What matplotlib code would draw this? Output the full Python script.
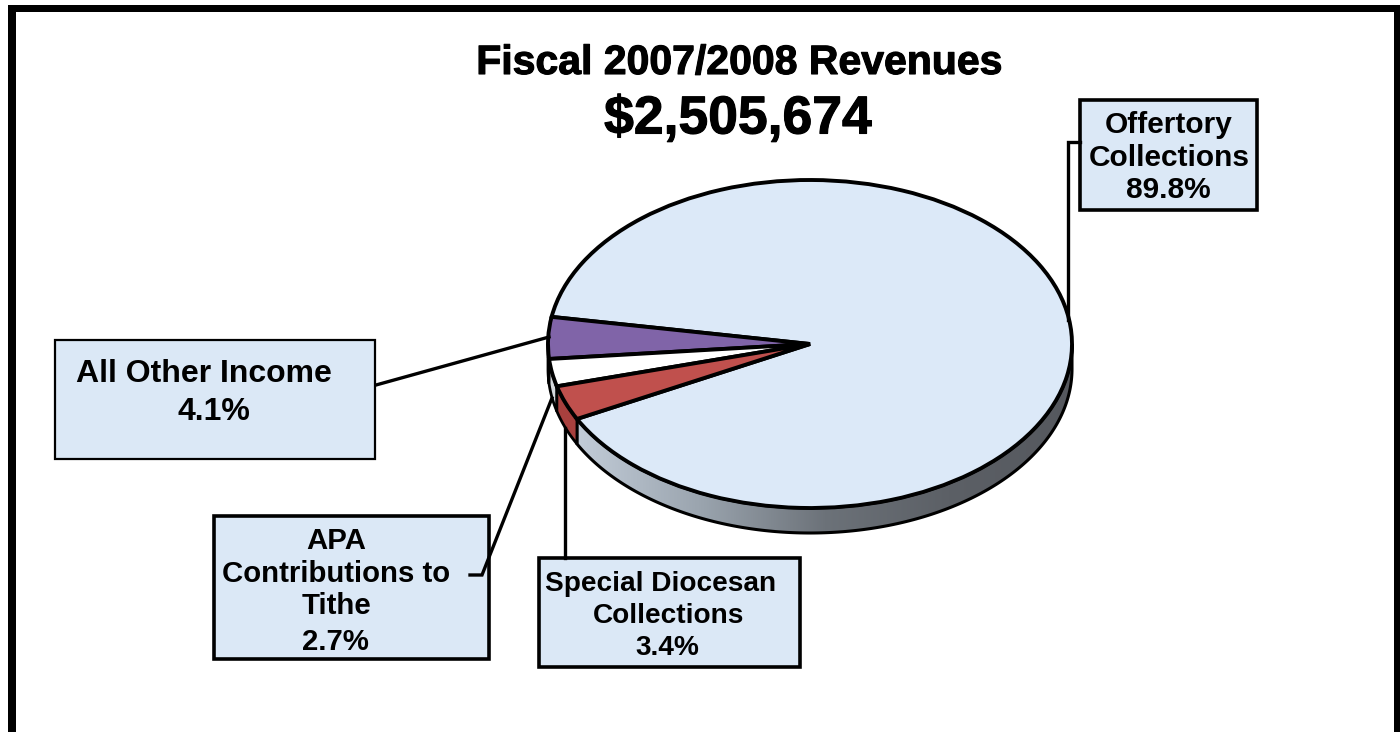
import matplotlib
matplotlib.use('Agg')
import matplotlib.pyplot as plt
import numpy as np
from matplotlib.colors import LinearSegmentedColormap
from matplotlib.patches import Polygon, Rectangle
import matplotlib.patheffects as pe

plt.rcParams['font.family'] = ['Liberation Sans', 'DejaVu Sans']

categories = ['Offertory Collections', 'All Other Income',
              'APA Contributions to Tithe', 'Special Diocesan Collections']
shares = [89.8, 4.1, 2.7, 3.4]
label_lines = [['Offertory', 'Collections', '89.8%'],
               ['All Other Income', '4.1%'],
               ['APA', 'Contributions to', 'Tithe', '2.7%'],
               ['Special Diocesan', 'Collections', '3.4%']]
slice_colors = ['#dce9f8', '#8064a8', '#ffffff', '#c0504d']
side_colors = [None, '#5f4a80', '#d4d8dc', '#a8403e']
title_lines = ['Fiscal 2007/2008 Revenues', '$2,505,674']

W, H = 1400, 732
cx, cy, rx, ry, depth = 810, 344, 262, 164, 25
box_fill = '#dbe8f6'

fig = plt.figure(figsize=(W / 100, H / 100), dpi=100, facecolor='white')

# pie axes: unit circle squashed into an ellipse so it looks tilted
ax = fig.add_axes([0, 0, 1, 1])
wedges, _ = ax.pie(shares, colors=slice_colors, startangle=207.2,
                   wedgeprops={'edgecolor': 'black', 'linewidth': 2.8, 'zorder': 3})
d = depth / ry

# side of the pie, only the lower half shows
rim_cmap = LinearSegmentedColormap.from_list(
    'rim', ['#c2ccd8', '#9aa4ae', '#6c7279', '#5c6066', '#55585e'])
grad = np.linspace(0, 1, 256).reshape(1, -1)
for w, side in zip(wedges, side_colors):
    t1, t2 = w.theta1 % 360, w.theta2 % 360
    if t2 < t1:
        # wraps past 0, the part on the right is still in view up to 360
        t2 = 360
    t1 = max(t1, 180)
    if t2 <= t1:
        continue
    t = np.radians(np.linspace(t1, t2, 200))
    pts = np.r_[np.c_[np.cos(t), np.sin(t)], np.c_[np.cos(t[::-1]), np.sin(t[::-1]) - d]]
    if side is None:
        im = ax.imshow(grad, cmap=rim_cmap, aspect='auto', zorder=1,
                       extent=[pts[:, 0].min(), 1, -1 - d, 0])
        clip = Polygon(pts, closed=True, transform=ax.transData, facecolor='none')
        im.set_clip_path(clip)
        ax.add_patch(Polygon(pts, closed=True, facecolor='none', edgecolor='black',
                             linewidth=2.2, zorder=2))
    else:
        ax.add_patch(Polygon(pts, closed=True, facecolor=side, edgecolor='black',
                             linewidth=2, zorder=2))
ax.set_xlim(-cx / rx, (W - cx) / rx)
ax.set_ylim((cy - H) / ry, cy / ry)
ax.set_aspect('auto')

# overlay in pixel coordinates for frame, boxes and leaders
ov = fig.add_axes([0, 0, 1, 1], facecolor='none')
ov.set_xlim(0, W)
ov.set_ylim(H, 0)
ov.axis('off')

# frame: left and top bars, the right one runs off the image
ov.add_patch(Rectangle((8, 5), 8, H, facecolor='black', edgecolor='none'))
ov.add_patch(Rectangle((8, 5), W, 7, facecolor='black', edgecolor='none'))
ov.add_patch(Rectangle((1394, 5), 6, H, facecolor='black', edgecolor='none'))

leaders = [([1080, 1068, 1068], [142, 142, 320]),
           ([376, 549], [385, 337]),
           ([470, 482, 552], [575, 575, 398]),
           ([565, 565], [428, 558])]
for xs, ys in leaders:
    ov.plot(xs, ys, color='black', linewidth=2.4, solid_joinstyle='miter', zorder=5)

boxes = [(1080, 100, 177, 110, 2.6), (55, 340, 320, 119, 1.6),
         (214, 516, 275, 143, 2.6), (539, 558, 261, 109, 2.6)]
line_pos = [[(1169, 122), (1169, 155), (1168, 187)],
            [(204, 370), (214, 409)],
            [(336, 538), (336, 571), (336, 603), (335, 639)],
            [(661, 581), (669, 613), (667, 645)]]
font_sizes = [21.5, 23, 21.2, 20.2]
for (x, y, w, h, lw), lines, pos, fs in zip(boxes, label_lines, line_pos, font_sizes):
    ov.add_patch(Rectangle((x, y), w, h, facecolor=box_fill, edgecolor='black',
                           linewidth=lw, zorder=3))
    for s, (tx, ty) in zip(lines, pos):
        ov.text(tx, ty, s, ha='center', va='center_baseline', fontsize=fs,
                fontweight='bold', color='black', zorder=6)

stroke = [pe.withStroke(linewidth=0.8, foreground='black')]
ov.text(739, 59, title_lines[0], ha='center', va='center_baseline', fontsize=29.5,
        fontweight='bold', color='black', path_effects=stroke)
ov.text(738, 114, title_lines[1], ha='center', va='center_baseline', fontsize=38.5,
        fontweight='bold', color='black', path_effects=stroke)

fig.savefig('out.png', dpi=100, facecolor='white')
